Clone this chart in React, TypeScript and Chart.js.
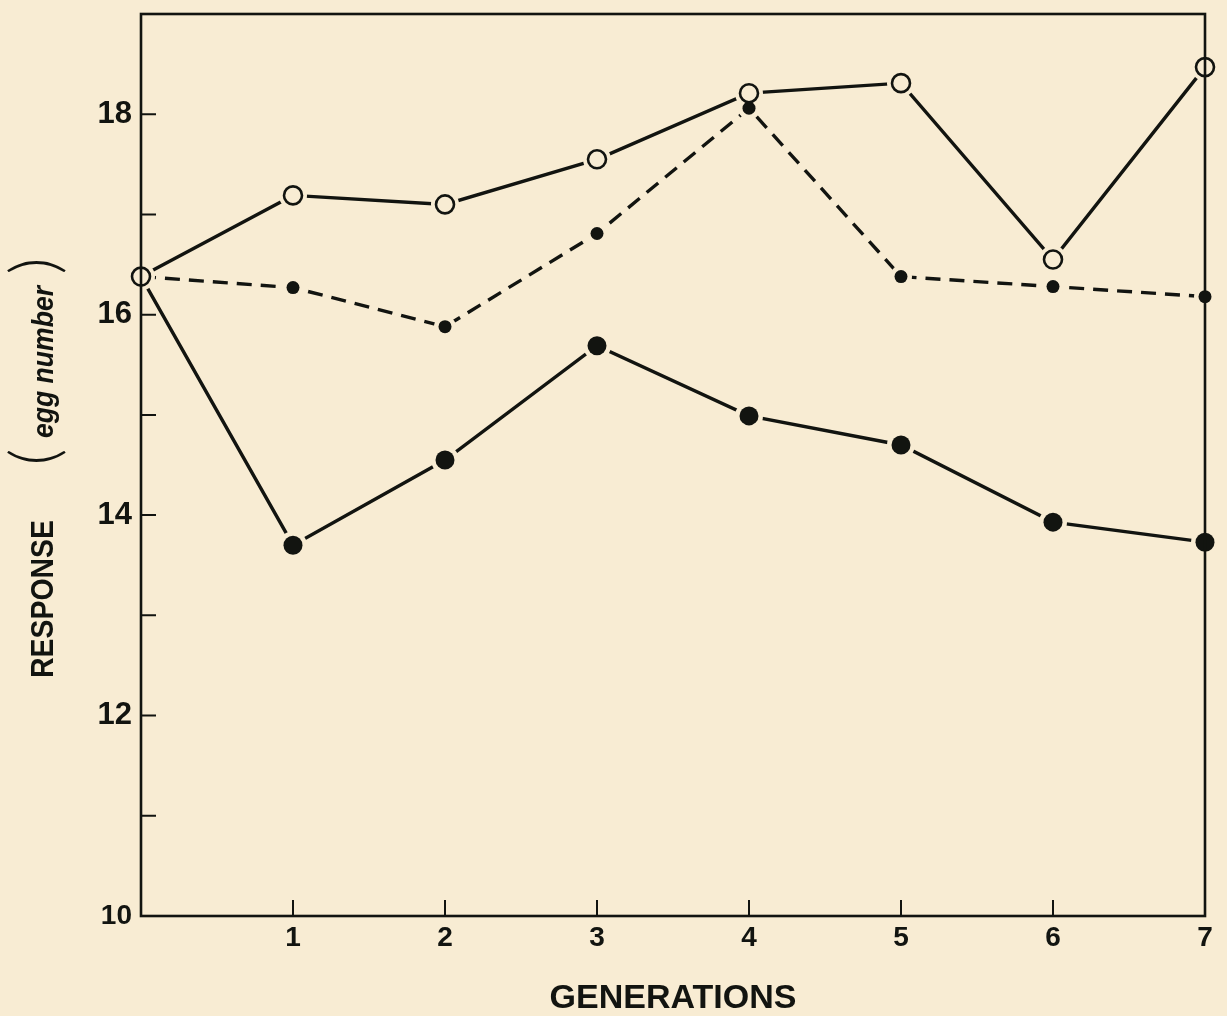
import { useEffect, useRef } from "react";
import { Chart, registerables } from "chart.js";

Chart.register(...registerables);

// Generations (x) and mean egg number per line (y)
const generations = [0, 1, 2, 3, 4, 5, 6, 7];
const openCircleSeries = [16.38, 17.19, 17.1, 17.55, 18.21, 18.31, 16.55, 18.47];
const smallDotSeries = [16.38, 16.27, 15.88, 16.81, 18.06, 16.38, 16.28, 16.18];
const largeDotSeries = [16.38, 13.7, 14.55, 15.69, 14.99, 14.7, 13.93, 13.73];

// Labelled ticks
const xTickLabels = [1, 2, 3, 4, 5, 6, 7];
const yTickLabels = [10, 12, 14, 16, 18];

const PAPER = "#f8ecd3";
const INK = "#121410";

const toPoints = (values: number[]) =>
  generations.map((g, i) => ({ x: g, y: values[i] }));

// Plot frame plus inward-pointing tick marks
const framePlugin = {
  id: "frame",
  afterDatasetsDraw(chart: any) {
    const { ctx, chartArea, scales } = chart;
    const { left, right, top, bottom } = chartArea;
    ctx.save();
    ctx.strokeStyle = INK;
    ctx.lineWidth = 2.6;
    ctx.strokeRect(left, top, right - left, bottom - top);
    ctx.lineWidth = 2;
    ctx.beginPath();
    for (const t of scales.y.ticks) {
      const py = scales.y.getPixelForValue(t.value);
      if (py <= top + 1 || py >= bottom - 1) continue;
      ctx.moveTo(left, py);
      ctx.lineTo(left + 15, py);
    }
    for (const t of scales.x.ticks) {
      const px = scales.x.getPixelForValue(t.value);
      if (px <= left + 1 || px >= right - 1) continue;
      ctx.moveTo(px, bottom);
      ctx.lineTo(px, bottom - 16);
    }
    ctx.stroke();
    ctx.restore();
  },
};

// Vertical axis title with mixed lettering: RESPONSE (egg number)
const yTitlePlugin = {
  id: "yTitle",
  afterDraw(chart: any) {
    const { ctx, chartArea } = chart;
    const mid = (chartArea.top + chartArea.bottom) / 2;
    const baseX = 53;
    ctx.save();
    ctx.translate(baseX, mid);
    ctx.rotate(-Math.PI / 2);
    ctx.fillStyle = INK;
    ctx.textBaseline = "alphabetic";
    ctx.textAlign = "left";
    ctx.font = "bold 32px 'Liberation Sans'";
    ctx.fillText("RESPONSE", -213, 0, 158);
    ctx.font = "italic bold 29px 'Liberation Sans'";
    ctx.fillText("egg number", 27, 0, 152);
    ctx.font = "300 66px Lato";
    ctx.textAlign = "center";
    ctx.textBaseline = "middle";
    ctx.fillText("(", 8, -17);
    ctx.fillText(")", 199, -17);
    ctx.restore();
  },
};

export default function App() {
  const canvasRef = useRef<HTMLCanvasElement | null>(null);

  useEffect(() => {
    const canvas = canvasRef.current;
    if (!canvas) return;

    const lineBase = {
      type: "line" as const,
      borderColor: INK,
      borderWidth: 3.4,
      pointRadius: 0,
      fill: false,
      tension: 0,
      clip: false,
      order: 3,
    };
    const haloBase = {
      type: "line" as const,
      showLine: false,
      pointBackgroundColor: PAPER,
      pointBorderWidth: 0,
      clip: false,
      order: 2,
    };
    const markerBase = {
      type: "line" as const,
      showLine: false,
      pointBorderColor: INK,
      clip: false,
      order: 1,
    };
    const hideFirst = (r: number) => generations.map((_, i) => (i === 0 ? 0 : r));

    const chart = new Chart(canvas, {
      type: "line",
      data: {
        datasets: [
          { ...lineBase, label: "open", data: toPoints(openCircleSeries) },
          { ...lineBase, label: "small", data: toPoints(smallDotSeries), borderDash: [15, 9] },
          { ...lineBase, label: "large", data: toPoints(largeDotSeries) },
          { ...haloBase, label: "open halo", data: toPoints(openCircleSeries), pointRadius: 14 },
          { ...haloBase, label: "small halo", data: toPoints(smallDotSeries), pointRadius: hideFirst(11) },
          { ...haloBase, label: "large halo", data: toPoints(largeDotSeries), pointRadius: hideFirst(14) },
          {
            ...markerBase,
            label: "open marker",
            data: toPoints(openCircleSeries),
            pointRadius: 9,
            pointBorderWidth: 2.6,
            pointBackgroundColor: "rgba(0,0,0,0)",
          },
          {
            ...markerBase,
            label: "small marker",
            data: toPoints(smallDotSeries),
            pointRadius: hideFirst(6.5),
            pointBorderWidth: 0,
            pointBackgroundColor: INK,
          },
          {
            ...markerBase,
            label: "large marker",
            data: toPoints(largeDotSeries),
            pointRadius: hideFirst(9.5),
            pointBorderWidth: 0,
            pointBackgroundColor: INK,
          },
        ] as any,
      },
      options: {
        animation: false,
        responsive: false,
        events: [],
        layout: { padding: { left: 0, right: 22, top: 13, bottom: 0 } },
        plugins: {
          legend: { display: false },
          tooltip: { enabled: false },
        },
        scales: {
          x: {
            type: "linear",
            min: 0,
            max: 7,
            grid: { display: false, drawTicks: false },
            border: { display: false },
            ticks: {
              stepSize: 1,
              padding: 5,
              color: INK,
              font: { family: "'Liberation Sans'", size: 28, weight: "bold" },
              maxRotation: 0,
              callback: (v: any) => (xTickLabels.includes(Number(v)) ? String(v) : ""),
            },
            title: {
              display: true,
              text: "GENERATIONS",
              color: INK,
              font: { family: "'Liberation Sans'", size: 34, weight: "bold" },
              padding: { top: 0, bottom: -3 },
            },
            afterFit: (scale: any) => {
              scale.height = 100;
              scale.paddingLeft = 0;
              scale.paddingRight = 0;
            },
          },
          y: {
            type: "linear",
            min: 10,
            max: 19,
            grid: { display: false, drawTicks: false },
            border: { display: false },
            ticks: {
              stepSize: 1,
              padding: 9,
              color: INK,
              font: (c: any) => ({
                family: "'Liberation Sans'",
                size: c.tick && c.tick.value === 10 ? 28 : 31,
                weight: "bold",
              }),
              callback: (v: any) => (yTickLabels.includes(Number(v)) ? String(v) : ""),
            },
            afterFit: (scale: any) => {
              scale.width = 141;
              scale.paddingTop = 0;
              scale.paddingBottom = 0;
            },
          },
        },
      } as any,
      plugins: [framePlugin, yTitlePlugin],
    });

    return () => chart.destroy();
  }, []);

  return (
    <div
      style={{
        position: "fixed",
        left: 0,
        top: 0,
        width: 1227,
        height: 1016,
        background: PAPER,
      }}
    >
      <canvas ref={canvasRef} width={1227} height={1016} style={{ display: "block" }} />
    </div>
  );
}
